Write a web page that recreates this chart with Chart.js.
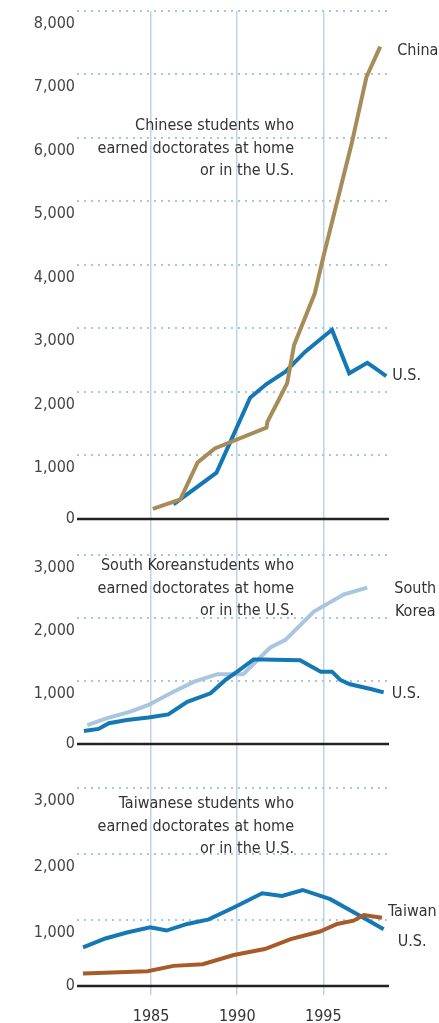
<!DOCTYPE html>
<html>
<head>
<meta charset="utf-8">
<title>Students who earned doctorates at home or in the U.S.</title>
<script src="https://cdn.jsdelivr.net/npm/chart.js@4.4.1/dist/chart.umd.min.js"></script>
<style>
  html, body { margin: 0; padding: 0; background: #fff; }
  #chart { display: block; }
</style>
</head>
<body>
<canvas id="chart" width="439" height="1023"></canvas>
<script>
// tick labels
const yearTicks = [1985, 1990, 1995]
const chinaTicks = [0, 1000, 2000, 3000, 4000, 5000, 6000, 7000, 8000]
const smallTicks = [0, 1000, 2000, 3000]

// China panel
const chinaYears = [1985.1, 1986.7, 1987.7, 1988.7, 1991.7, 1991.75, 1992.4, 1992.9, 1993.3, 1994.5, 1995.0, 1996.65, 1997.5, 1998.3]
const chinaValues = [160, 310, 890, 1110, 1440, 1530, 1870, 2140, 2740, 3550, 4130, 5920, 6960, 7440]
const usChinaYears = [1986.3, 1988.8, 1990.75, 1991.7, 1992.8, 1993.95, 1995.5, 1996.5, 1997.55, 1998.0, 1998.65]
const usChinaValues = [230, 730, 1910, 2125, 2320, 2635, 2980, 2295, 2460, 2375, 2250]

// South Korea panel
const koreaYears = [1981.3, 1982.45, 1983.8, 1984.85, 1986.3, 1987.5, 1988.85, 1990.35, 1991.9, 1992.8, 1994.45, 1996.2, 1997.55]
const koreaValues = [300, 410, 515, 620, 830, 990, 1110, 1110, 1530, 1655, 2105, 2380, 2485]
const usKoreaYears = [1981.1, 1981.95, 1982.55, 1983.6, 1984.85, 1986.0, 1987.1, 1988.45, 1989.3, 1990.0, 1990.95, 1991.45, 1993.65, 1994.85, 1995.5, 1996.0, 1996.55, 1997.75, 1998.5]
const usKoreaValues = [205, 240, 330, 380, 420, 470, 670, 805, 1015, 1150, 1345, 1345, 1330, 1150, 1150, 1015, 950, 875, 820]

// Taiwan panel
const taiwanYears = [1981.05, 1984.8, 1986.3, 1988.0, 1989.8, 1991.6, 1993.1, 1994.8, 1995.8, 1996.75, 1997.35, 1998.4]
const taiwanValues = [190, 225, 305, 330, 470, 560, 710, 825, 940, 990, 1075, 1035]
const usTaiwanYears = [1981.05, 1982.35, 1983.6, 1984.95, 1985.9, 1987.1, 1988.35, 1989.8, 1991.45, 1992.6, 1993.8, 1995.4, 1997.15, 1998.5]
const usTaiwanValues = [585, 720, 810, 890, 840, 940, 1010, 1190, 1405, 1365, 1455, 1315, 1060, 860]

const panelTitles = [
  ['Chinese students who', 'earned doctorates at home', 'or in the U.S.'],
  ['South Koreanstudents who', 'earned doctorates at home', 'or in the U.S.'],
  ['Taiwanese students who', 'earned doctorates at home', 'or in the U.S.']
]

const FONT = "'DejaVu Sans Condensed', 'Liberation Sans Narrow', 'DejaVu Sans', sans-serif"
const INK = '#333'
const DOTS = '#a9c6e0'
const VLINE = '#bcd3e8'
const US_BLUE = '#1478b4'

// where the panel notes sit (pixels)
const titleSpots = [{ x: 294, y: 126 }, { x: 294, y: 566 }, { x: 294, y: 804 }]

const pairs = (xs, ys) => xs.map((x, i) => ({ x, y: ys[i] }))

function line(xs, ys, color, axis, tag) {
  return {
    data: pairs(xs, ys),
    yAxisID: axis,
    borderColor: color,
    borderWidth: 4,
    pointRadius: 0,
    tension: 0,
    tag
  }
}

function panelAxis(ticks, min, max, stackWeight, weight) {
  return {
    type: 'linear',
    position: 'left',
    stack: 'panels',
    stackWeight,
    weight,
    min,
    max,
    afterBuildTicks: s => { s.ticks = ticks.map(v => ({ value: v })) },
    afterFit: s => { s.width = 77; s.paddingTop = 0; s.paddingBottom = 0 },
    grid: {
      color: c => (c.tick && c.tick.value === 0 ? 'rgba(0,0,0,0)' : DOTS),
      lineWidth: 2,
      drawTicks: false
    },
    border: { display: false, dash: [2, 5] },
    ticks: {
      autoSkip: false,
      padding: 2,
      color: '#444',
      font: { family: FONT, size: 16, lineHeight: 1.6 },
      // blank first line pushes the number a little under its grid line
      callback: v => (v === 0 ? '0' : ['', v.toLocaleString('en-US')])
    }
  }
}

const notes = {
  id: 'notes',
  beforeDatasetsDraw(chart) {
    const { ctx, chartArea } = chart
    ctx.save()
    ctx.strokeStyle = '#222'
    ctx.lineWidth = 2.5
    for (const id of ['yChina', 'yKorea', 'yTaiwan']) {
      const y = chart.scales[id].getPixelForValue(0)
      ctx.beginPath()
      ctx.moveTo(chartArea.left, y)
      ctx.lineTo(chartArea.right, y)
      ctx.stroke()
    }
    ctx.fillStyle = INK
    ctx.font = '16px ' + FONT
    ctx.textAlign = 'right'
    ctx.textBaseline = 'middle'
    panelTitles.forEach((lines, p) => {
      lines.forEach((t, j) => ctx.fillText(t, titleSpots[p].x, titleSpots[p].y + j * 22.6))
    })
    ctx.restore()
  },
  afterDatasetsDraw(chart) {
    const { ctx } = chart
    ctx.save()
    ctx.fillStyle = INK
    ctx.font = '16px ' + FONT
    ctx.textBaseline = 'middle'
    chart.data.datasets.forEach((ds, i) => {
      if (!ds.tag) return
      const pts = chart.getDatasetMeta(i).data
      const end = pts[pts.length - 1]
      ctx.textAlign = ds.tag.align || 'left'
      ;[].concat(ds.tag.text).forEach((t, j) => {
        ctx.fillText(t, end.x + ds.tag.dx, end.y + ds.tag.dy + j * 23)
      })
    })
    ctx.restore()
  }
}

new Chart(document.getElementById('chart'), {
  type: 'line',
  data: {
    datasets: [
      line(chinaYears, chinaValues, '#a68c58', 'yChina', { text: 'China', dx: 17, dy: 4 }),
      line(usChinaYears, usChinaValues, US_BLUE, 'yChina', { text: 'U.S.', dx: 6, dy: 0 }),
      line(usKoreaYears, usKoreaValues, US_BLUE, 'yKorea', { text: 'U.S.', dx: 8, dy: 1 }),
      line(koreaYears, koreaValues, '#a9c5df', 'yKorea', { text: ['South', 'Korea'], dx: 48, dy: 1, align: 'center' }),
      line(taiwanYears, taiwanValues, '#a85b2a', 'yTaiwan', { text: 'Taiwan', dx: 6, dy: -6 }),
      line(usTaiwanYears, usTaiwanValues, US_BLUE, 'yTaiwan', { text: 'U.S.', dx: 14, dy: 13 })
    ]
  },
  options: {
    responsive: false,
    animation: false,
    layout: { padding: { top: 11, right: 50, left: 0, bottom: 0 } },
    plugins: { legend: { display: false }, tooltip: { enabled: false } },
    scales: {
      x: {
        type: 'linear',
        min: 1980.7,
        max: 1998.81,
        afterBuildTicks: s => { s.ticks = yearTicks.map(v => ({ value: v })) },
        afterFit: s => { s.height = 37; s.paddingLeft = 0; s.paddingRight = 0 },
        grid: { color: VLINE, lineWidth: 1.5, tickLength: 9, tickColor: VLINE },
        border: { display: false },
        ticks: {
          autoSkip: false,
          maxRotation: 0,
          padding: 12,
          color: INK,
          font: { family: FONT, size: 16 },
          callback: v => String(v)
        }
      },
      yChina: panelAxis(chinaTicks, -572, 8000, 544.3, 3),
      yKorea: panelAxis(smallTicks, -700, 3000, 232.7, 2),
      yTaiwan: panelAxis(smallTicks, 0, 3000, 198, 1)
    }
  },
  plugins: [notes]
})
</script>
</body>
</html>
